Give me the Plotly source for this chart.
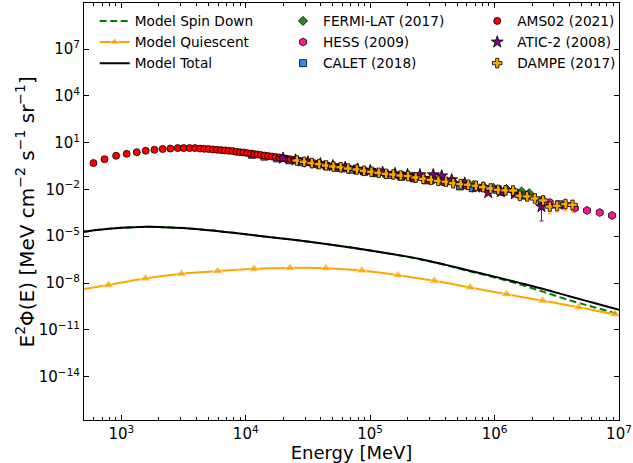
import numpy as np
import plotly.graph_objects as go

# ---------------- data (log10 values) ----------------
# models: log10(E / MeV), log10(E^2 Phi)
sd_logE = [2.7, 2.8, 2.9, 3.0, 3.1, 3.2, 3.3, 3.4, 3.5, 3.6, 3.7, 3.8, 3.9, 4.0, 4.2, 4.4, 4.6,
           4.8, 5.0, 5.2, 5.4, 5.6, 5.8, 6.0, 6.2, 6.4, 6.6, 6.8, 7.0]
sd_logF = [-4.71, -4.60, -4.52, -4.46, -4.42, -4.40, -4.41, -4.44, -4.48, -4.54, -4.61, -4.69, -4.78,
           -4.87, -5.06, -5.24, -5.45, -5.68, -5.92, -6.18, -6.48, -6.84, -7.25, -7.64, -8.08, -8.58,
           -9.10, -9.55, -10.0]
tot_logF = [-4.71, -4.60, -4.52, -4.46, -4.42, -4.40, -4.41, -4.44, -4.48, -4.54, -4.61, -4.69, -4.78,
            -4.87, -5.06, -5.24, -5.45, -5.67, -5.91, -6.17, -6.46, -6.82, -7.21, -7.59, -7.99, -8.40,
            -8.85, -9.28, -9.72]
q_logE = [2.7, 2.897, 3.193, 3.483, 3.775, 4.066, 4.355, 4.643, 4.933, 5.223, 5.516, 5.803, 6.096,
          6.386, 6.676, 6.966, 7.0]
q_logF = [-8.38, -8.12, -7.71, -7.41, -7.24, -7.09, -7.03, -7.05, -7.20, -7.50, -7.86, -8.29, -8.72,
          -9.13, -9.55, -10.00, -10.04]
q_marked = [0, 1, 1, 1, 1, 1, 1, 1, 1, 1, 1, 1, 1, 1, 1, 1, 0]

# FERMI-LAT (2017)
fermi_logE = [4.63, 4.71, 4.79, 4.87, 4.95, 5.03, 5.11, 5.19, 5.27, 5.35, 5.43, 5.51, 5.59, 5.67,
              5.75, 5.83, 5.91, 5.99, 6.096, 6.217, 6.278]
fermi_logF = [-0.44, -0.53, -0.62, -0.71, -0.80, -0.89, -0.97, -1.05, -1.13, -1.21, -1.29, -1.37,
              -1.45, -1.53, -1.62, -1.71, -1.80, -1.89, -1.98, -2.13, -2.24]
fermi_err = [0.05] * 18 + [0.12, 0.15, 0.18]

# HESS (2009)
hess_logE = [6.444, 6.545, 6.645, 6.743, 6.845, 6.944]
hess_logF = [-2.84, -3.02, -3.20, -3.35, -3.48, -3.67]
hess_err = [0.10, 0.10, 0.12, 0.15, 0.18, 0.22]

# CALET (2018)
calet_logE = [4.05, 4.15, 4.25, 4.35, 4.45, 4.55, 4.65, 4.75, 4.85, 4.95, 5.05, 5.15, 5.25, 5.35,
              5.45, 5.575, 5.722, 5.824, 5.95, 6.021, 6.163, 6.25, 6.377, 6.52]
calet_logF = [0.22, 0.10, -0.01, -0.13, -0.26, -0.38, -0.50, -0.62, -0.74, -0.85, -0.96, -1.07,
              -1.18, -1.30, -1.42, -1.49, -1.81, -1.92, -1.98, -2.03, -2.24, -2.40, -2.70, -2.95]
calet_err = [0.04] * 20 + [0.1, 0.12, 0.2, 0.3]

# AMS02 (2021)
ams_logE = [2.776, 2.865, 2.958, 3.043, 3.124, 3.196, 3.266, 3.332, 3.394, 3.453, 3.501, 3.549,
            3.592, 3.633, 3.667, 3.702, 3.737, 3.769, 3.801, 3.833, 3.862, 3.894, 3.924, 3.953,
            3.983, 4.012, 4.042, 4.068, 4.095, 4.122, 4.15, 4.18, 4.21, 4.24, 4.27, 4.30, 4.33,
            4.36, 4.39, 4.43, 4.47, 4.51, 4.55, 4.60, 4.65, 4.70, 4.76, 4.82, 4.89, 4.96, 5.04,
            5.13, 5.23, 5.34, 5.46, 5.60, 5.77, 5.90, 6.067]
ams_logF = [-0.31, -0.06, 0.16, 0.28, 0.39, 0.48, 0.54, 0.59, 0.62, 0.65, 0.65, 0.65, 0.65, 0.62,
            0.60, 0.59, 0.56, 0.54, 0.52, 0.50, 0.48, 0.46, 0.41, 0.39, 0.37, 0.33, 0.30, 0.26,
            0.24, 0.20, 0.17, 0.14, 0.11, 0.08, 0.05, 0.01, -0.03, -0.07, -0.11, -0.16, -0.21,
            -0.27, -0.32, -0.39, -0.46, -0.52, -0.59, -0.66, -0.74, -0.82, -0.91, -1.01, -1.12,
            -1.25, -1.38, -1.55, -1.76, -1.92, -2.19]
ams_err = [0.02] * 52 + [0.03, 0.04, 0.05, 0.06, 0.08, 0.1, 0.15]

# ATIC-2 (2008)
atic_logE = [4.3, 4.4, 4.5, 4.6, 4.7, 4.8, 4.9, 5.0, 5.1, 5.2, 5.3, 5.4, 5.507, 5.575, 5.655,
             5.76, 5.85, 5.949, 6.05, 6.163, 6.377]
atic_logF = [0.0, -0.12, -0.24, -0.36, -0.48, -0.59, -0.70, -0.80, -0.90, -0.99, -1.05, -1.06,
             -1.06, -1.13, -1.38, -1.60, -1.85, -2.20, -2.15, -2.28, -3.10]
atic_err = [0.05] * 15 + [0.1, 0.12, 0.2, 0.2, 0.3, 0.88]

# DAMPE (2017)
dampe_logE = [4.411, 4.470, 4.531, 4.590, 4.646, 4.705, 4.763, 4.823, 4.893, 4.951, 5.010, 5.069,
              5.128, 5.186, 5.246, 5.304, 5.366, 5.427, 5.489, 5.548, 5.609, 5.668, 5.727, 5.788,
              5.850, 5.909, 5.968, 6.029, 6.088, 6.149, 6.203, 6.262, 6.324, 6.390, 6.444, 6.503,
              6.570, 6.626]
dampe_logF = [-0.146, -0.229, -0.312, -0.377, -0.466, -0.531, -0.58, -0.659, -0.723, -0.806,
              -0.870, -0.934, -0.999, -1.043, -1.108, -1.146, -1.236, -1.319, -1.384, -1.448,
              -1.51, -1.60, -1.66, -1.70, -1.77, -1.85, -1.94, -2.03, -2.06, -2.07, -2.41, -2.45,
              -2.58, -2.71, -3.10, -3.05, -2.94, -2.99]
dampe_err = [0.03] * 28 + [0.06, 0.08, 0.1, 0.12, 0.15, 0.2, 0.66, 0.6, 0.6, 0.66]

x_tick_vals = [1e3, 1e4, 1e5, 1e6, 1e7]
x_tick_text = ["10<sup>3</sup>", "10<sup>4</sup>", "10<sup>5</sup>", "10<sup>6</sup>", "10<sup>7</sup>"]
y_tick_vals = [1e-14, 1e-11, 1e-8, 1e-5, 1e-2, 1e1, 1e4, 1e7]
y_tick_text = ["10<sup>\u221214</sup>", "10<sup>\u221211</sup>", "10<sup>\u22128</sup>",
               "10<sup>\u22125</sup>", "10<sup>\u22122</sup>", "10<sup>1</sup>",
               "10<sup>4</sup>", "10<sup>7</sup>"]
x_minor_vals = [m * 10 ** d for d in range(2, 7) for m in range(2, 10)]

y_title = ("E<sup>2</sup>\u03a6(E) [MeV cm<sup>\u22122</sup> s<sup>\u22121</sup> "
           "sr<sup>\u22121</sup>]")

# ---------------- figure ----------------
FONT = "DejaVu Sans"
p = lambda a: 10 ** np.array(a, dtype=float)

fig = go.Figure()

fig.add_trace(go.Scatter(x=p(sd_logE), y=p(sd_logF), mode="lines", name="Model Spin Down",
                         line=dict(color="#008000", width=2, dash="7px,3.5px", shape="spline"),
                         legend="legend", legendgroup="g1"))
fig.add_trace(go.Scatter(x=p(q_logE), y=p(q_logF), mode="lines+markers", name="Model Quiescent",
                         line=dict(color="#ffa500", width=2, shape="spline"),
                         marker=dict(symbol="triangle-up", color="#ffa500",
                                     size=[10 * m for m in q_marked]),
                         legend="legend", legendgroup="g2"))
fig.add_trace(go.Scatter(x=p(sd_logE), y=p(tot_logF), mode="lines", name="Model Total",
                         line=dict(color="black", width=2, shape="spline"), legend="legend",
                         legendgroup="g3"))


def data_trace(logE, logF, err, name, color, symbol, size, legend, group):
    y = p(logF)
    e = y * np.array(err)
    return go.Scatter(x=p(logE), y=y, mode="markers", name=name, legend=legend,
                      legendgroup=group,
                      marker=dict(symbol=symbol, color=color, size=size,
                                  line=dict(color="black", width=0.8)),
                      error_y=dict(type="data", array=e, arrayminus=e, color=color,
                                   thickness=1, width=2))


fig.add_trace(data_trace(fermi_logE, fermi_logF, fermi_err, "FERMI-LAT (2017)", "#228b22",
                         "diamond", 7, "legend2", "g4"))
fig.add_trace(data_trace(hess_logE, hess_logF, hess_err, "HESS (2009)", "#ff1493",
                         "hexagon", 8, "legend2", "g5"))
fig.add_trace(data_trace(calet_logE, calet_logF, calet_err, "CALET (2018)", "#1e90ff",
                         "square", 7, "legend2", "g6"))
fig.add_trace(data_trace(ams_logE, ams_logF, ams_err, "AMS02 (2021)", "#ff0000",
                         "circle", 7, "legend3", "g7"))
fig.add_trace(data_trace(atic_logE, atic_logF, atic_err, "ATIC-2 (2008)", "#800080",
                         "star", 9, "legend3", "g8"))
fig.add_trace(data_trace(dampe_logE, dampe_logF, dampe_err, "DAMPE (2017)", "#ffa500",
                         "cross", 8, "legend3", "g9"))

leg_common = dict(yanchor="top", xanchor="left", y=0.994, bgcolor="rgba(0,0,0,0)",
                  borderwidth=0, font=dict(family=FONT, size=13.7, color="black"),
                  orientation="v", tracegroupgap=0.3)

fig.update_layout(
    width=633, height=463,
    margin=dict(l=84, r=14, t=3, b=43, autoexpand=False),
    paper_bgcolor="white", plot_bgcolor="white",
    font=dict(family=FONT, color="black"),
    showlegend=True,
    legend=dict(x=0.020, **leg_common),
    legend2=dict(x=0.372, **leg_common),
    legend3=dict(x=0.735, **leg_common),
    xaxis=dict(type="log", range=[2.7, 7.0], showline=True, linecolor="black", linewidth=1,
               mirror="allticks", ticks="inside", ticklen=5, tickcolor="black",
               tickvals=x_tick_vals, ticktext=x_tick_text, showgrid=False, zeroline=False,
               tickfont=dict(family=FONT, size=15, color="black"),
               minor=dict(tickvals=x_minor_vals, ticks="inside", ticklen=3, tickcolor="black",
                          showgrid=False),
               title=dict(text="Energy [MeV]", font=dict(family=FONT, size=18, color="black"),
                          standoff=5)),
    yaxis=dict(type="log", range=[-16.78, 9.95], showline=True, linecolor="black", linewidth=1,
               mirror="allticks", ticks="inside", ticklen=5, tickcolor="black",
               tickvals=y_tick_vals, ticktext=y_tick_text, showgrid=False, zeroline=False,
               tickfont=dict(family=FONT, size=15, color="black")),
    annotations=[dict(text=y_title, xref="paper", yref="paper", x=-0.1103, y=0.5,
                      xanchor="center", yanchor="middle", textangle=-90, showarrow=False,
                      font=dict(family=FONT, size=20, color="black"))],
)

fig.write_html("out.html")
